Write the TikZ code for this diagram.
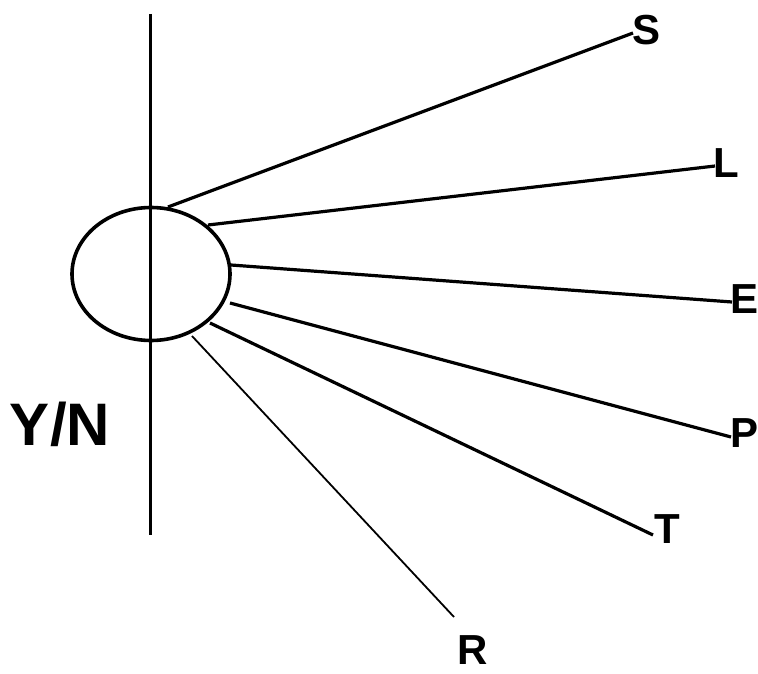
\documentclass[tikz,border=0pt]{standalone}
\usepackage{fontspec}
\setmainfont{Liberation Sans}
\usetikzlibrary{shapes.geometric}
\begin{document}
\begin{tikzpicture}[x=1pt,y=-1pt,
  spoke/.style={line width=3.2pt},
  thinspoke/.style={line width=1.8pt},
  lbl/.style={inner sep=0pt,anchor=base,font=\fontsize{42}{42}\selectfont\bfseries},
  biglbl/.style={inner sep=0pt,anchor=base,font=\fontsize{60}{60}\selectfont\bfseries}]
\useasboundingbox (0,0) rectangle (758,674);
% vertical axis
\coordinate (vtop) at (150.5,14);
\coordinate (vbot) at (150.5,535);
\draw[line width=2.8pt] (vtop) -- (vbot);
% ellipse
\node[ellipse,draw,line width=3.6pt,minimum width=158pt,minimum height=133pt,inner sep=0pt] (c) at (151,274) {};
% spoke start points on ellipse
\coordinate (s0) at (168,207);
\coordinate (l0) at (208,225);
\coordinate (e0) at (231,265);
\coordinate (p0) at (230,303);
\coordinate (t0) at (210,323);
\coordinate (r0) at (192,336);
% spoke end points
\coordinate (s1) at (633,33);
\coordinate (l1) at (715,166);
\coordinate (e1) at (732,302);
\coordinate (p1) at (731,437);
\coordinate (t1) at (653,535);
\coordinate (r1) at (454,617);
\draw[spoke] (s0) -- (s1);
\draw[spoke] (l0) -- (l1);
\draw[spoke] (e0) -- (e1);
\draw[spoke] (p0) -- (p1);
\draw[spoke] (t0) -- (t1);
\draw[thinspoke] (r0) -- (r1);
% labels
\node[lbl] (S) at (647,45) {S};
\node[lbl] (L) at (726,178) {L};
\node[lbl] (E) at (744,313) {E};
\node[lbl] (P) at (744,447) {P};
\node[lbl] (T) at (667,543) {T};
\node[lbl] (R) at (473,664) {R};
\node[biglbl] (YN) at (60,445) {Y/N};
\end{tikzpicture}
\end{document}
